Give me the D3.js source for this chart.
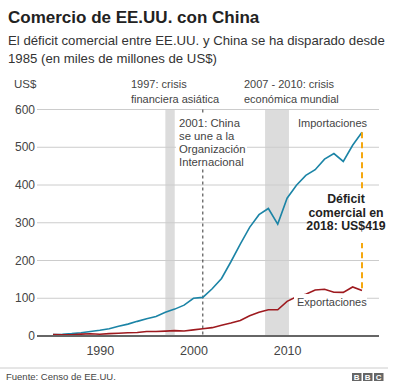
<!DOCTYPE html>
<html><head><meta charset="utf-8">
<script src="https://cdn.jsdelivr.net/npm/d3@7"></script>
<style>
body{margin:0;background:#fff;}
svg{display:block;font-family:"Liberation Sans",Arial,Helvetica,sans-serif;}
</style></head><body>
<svg id="c" width="398" height="388"></svg>
<script>
const years = d3.range(1985, 2019);
const imports = [3.9,4.8,6.3,8.5,12.0,15.2,19.0,25.7,31.5,38.8,45.5,51.5,62.6,71.2,81.8,100.0,102.3,125.2,152.4,196.7,243.5,287.8,321.4,337.8,296.4,364.9,399.4,425.6,440.4,468.5,483.2,462.4,505.2,539.5];
const exportsV = [3.9,3.1,3.5,5.0,5.8,4.8,6.3,7.4,8.8,9.3,11.8,12.0,12.9,14.2,13.1,16.2,19.2,22.1,28.4,34.4,41.2,53.7,62.9,69.7,69.5,91.9,104.1,110.5,121.7,123.7,115.9,115.6,129.9,120.3];
const yTicks = [0,100,200,300,400,500,600];
const xTicks = [1990,2000,2010];
const bands = [[1997,1998],[2007.65,2010.2]];
const wtoYear = 2001;

const svg = d3.select("#c");
const x = d3.scaleLinear().domain([1985,2018]).range([53,362]);
const y = d3.scaleLinear().domain([0,600]).range([336,109.5]);
const gridX0 = 37, gridX1 = 379;

// title
svg.append("text").attr("x",8).attr("y",23).attr("font-size",17).attr("font-weight","bold").attr("fill","#222").text("Comercio de EE.UU. con China");
svg.append("text").attr("x",8).attr("y",45).attr("font-size",13.2).attr("fill","#333").text("El déficit comercial entre EE.UU. y China se ha disparado desde");
svg.append("text").attr("x",8).attr("y",63).attr("font-size",13.2).attr("fill","#333").text("1985 (en miles de millones de US$)");

// bands
svg.selectAll("rect.band").data(bands).enter().append("rect").attr("class","band")
  .attr("x",d=>x(d[0])).attr("width",d=>x(d[1])-x(d[0]))
  .attr("y",y(600)).attr("height",y(0)-y(600)).attr("fill","#dcdcdc");

// grid
svg.selectAll("line.grid").data(yTicks.filter(d=>d>0)).enter().append("line").attr("class","grid")
  .attr("x1",gridX0).attr("x2",gridX1).attr("y1",d=>y(d)).attr("y2",d=>y(d))
  .attr("stroke","#cccccc").attr("stroke-width",1);

// y labels
svg.selectAll("text.yl").data(yTicks).enter().append("text").attr("class","yl")
  .attr("x",35).attr("y",d=>y(d)+4).attr("text-anchor","end").attr("font-size",12).attr("fill","#444").text(d=>d);
svg.append("text").attr("x",14).attr("y",88).attr("font-size",11.5).attr("fill","#444").text("US$");

// x axis
const xAxis = d3.axisBottom(x).tickValues(xTicks).tickSize(0).tickFormat(d3.format("d"));
const gx = svg.append("g").attr("transform",`translate(0,${y(0)})`).call(xAxis);
gx.select(".domain").remove();
gx.selectAll("text").attr("font-size",12.5).attr("fill","#444").attr("dy","1.25em").attr("font-family","Liberation Sans, Arial, sans-serif");

// wto dashed line
svg.append("line").attr("x1",x(wtoYear)).attr("x2",x(wtoYear)).attr("y1",y(600)).attr("y2",y(0))
  .attr("stroke","#333").attr("stroke-width",1).attr("stroke-dasharray","3,3");

// lines
const line = d3.line().x((d,i)=>x(years[i])).y(d=>y(d));
svg.append("path").datum(imports).attr("d",line).attr("fill","none").attr("stroke","#1b84a6").attr("stroke-width",1.6);
svg.append("path").datum(exportsV).attr("d",line).attr("fill","none").attr("stroke","#9e1a1f").attr("stroke-width",1.6);

// baseline
svg.append("line").attr("x1",gridX0).attr("x2",gridX1).attr("y1",y(0)).attr("y2",y(0)).attr("stroke","#666").attr("stroke-width",2);

// deficit dashed
svg.append("line").attr("x1",x(2018)).attr("x2",x(2018)).attr("y1",y(imports[33])).attr("y2",y(exportsV[33]))
  .attr("stroke","#f5a80f").attr("stroke-width",2).attr("stroke-dasharray","6,4");

// label boxes
svg.append("rect").attr("x",176).attr("y",114).attr("width",71).attr("height",54).attr("fill","#fff");
svg.append("rect").attr("x",308).attr("y",189).attr("width",80).attr("height",54).attr("fill","#fff");
svg.append("rect").attr("x",294).attr("y",294).attr("width",73).attr("height",16).attr("fill","#fff");

function lines(txt, xx, yy, lh, opts){
  const t = svg.append("text").attr("x",xx).attr("y",yy).attr("font-size",opts.size||11.3).attr("fill",opts.fill||"#444")
    .attr("text-anchor",opts.anchor||"start").attr("font-weight",opts.weight||"normal");
  txt.forEach((s,i)=>t.append("tspan").attr("x",xx).attr("y",yy+i*lh).text(s));
}
lines(["1997: crisis","financiera asiática"],131,88,14.5,{size:11});
lines(["2007 - 2010: crisis","económica mundial"],244,88,14.5,{size:11});
lines(["2001: China","se une a la","Organización","Internacional"],179,127,13,{size:11.3});
lines(["Importaciones"],298,127,13,{size:11});
lines(["Exportaciones"],297,306,13,{size:11});
lines(["Déficit","comercial en","2018: US$419"],346,203,13.5,{anchor:"middle",weight:"bold",fill:"#222",size:12.3});

// footer
svg.append("line").attr("x1",0).attr("x2",388).attr("y1",368).attr("y2",368).attr("stroke","#ccc");
svg.append("text").attr("x",6).attr("y",380).attr("font-size",9.5).attr("fill","#444").text("Fuente: Censo de EE.UU.");
["B","B","C"].forEach((l,i)=>{
  svg.append("rect").attr("x",352+i*11).attr("y",373).attr("width",9.5).attr("height",8).attr("fill","#666");
  svg.append("text").attr("x",352+i*11+4.75).attr("y",380).attr("text-anchor","middle").attr("font-size",8).attr("font-weight","bold").attr("fill","#fff").text(l);
});
</script></body></html>
